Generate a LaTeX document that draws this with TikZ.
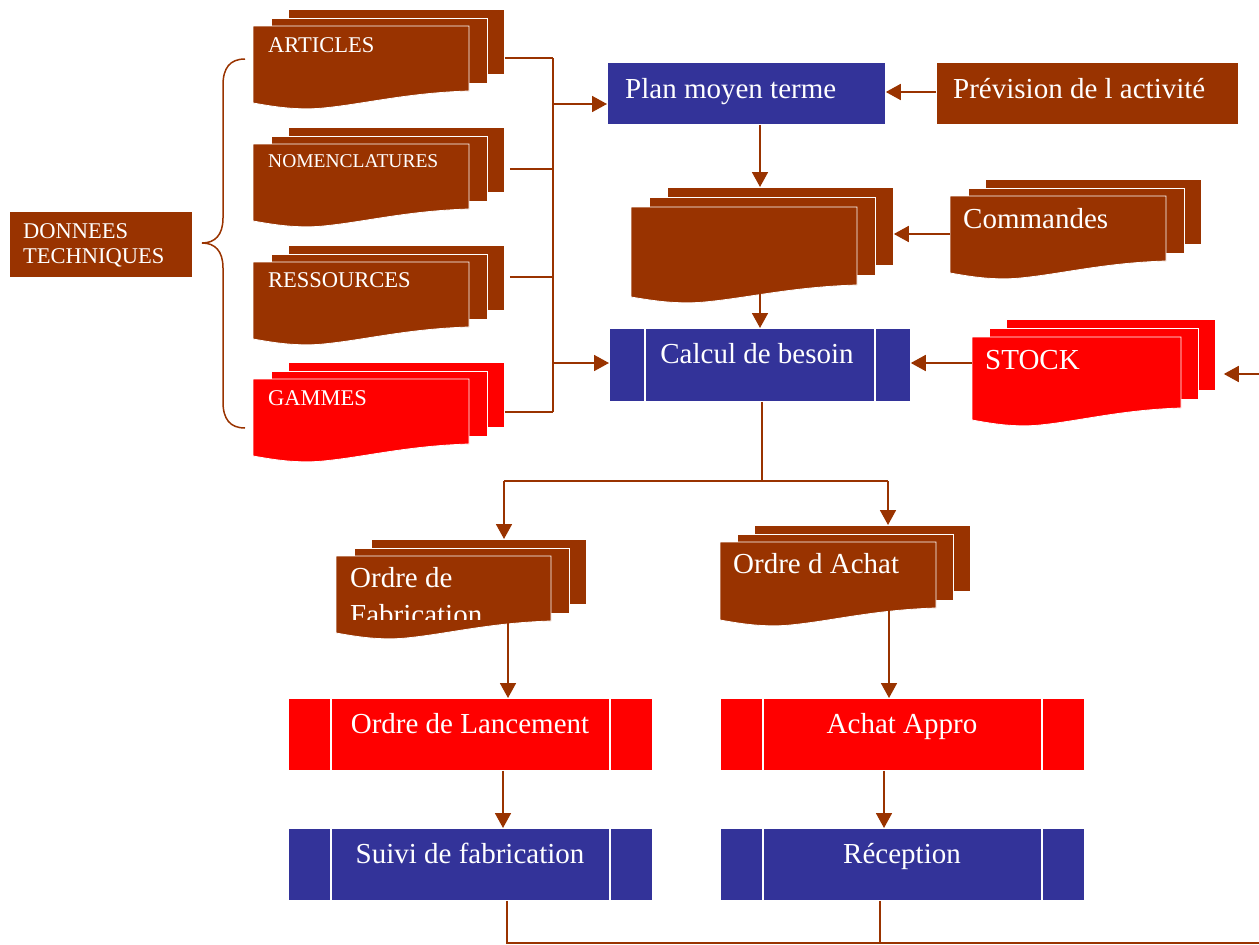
\documentclass[tikz,border=0pt]{standalone}
\usepackage{fontspec}
\setmainfont{Liberation Serif}
\usetikzlibrary{arrows.meta,calc}
\definecolor{brn}{HTML}{993300}
\definecolor{blu}{HTML}{333399}
\definecolor{rd}{HTML}{FF0000}
\tikzset{
  conn/.style={draw=brn, line width=1.8pt},
  arr/.style={conn, -{Triangle[width=16pt,length=15pt]}},
  big/.style={text=white, font=\fontsize{29}{33}\selectfont, inner sep=0pt},
  small/.style={text=white, font=\fontsize{22.5}{25}\selectfont, inner sep=0pt},
  box/.style={rectangle, inner sep=0pt, draw=white, line width=0.8pt},
}
% multi-document: name, x0, y0, w, h, colour, dx, dy (back offset)
\newcommand{\mdoc}[8]{%
  \node[box, fill=#6, anchor=north west, minimum width=#4pt, minimum height=#5pt] (#1b) at ({#2+#7},{#3-#8}) {};
  \node[box, fill=#6, anchor=north west, minimum width=#4pt, minimum height=#5pt] (#1m) at ({#2+0.5*#7},{#3-0.5*#8}) {};
  \filldraw[fill=#6, draw=white, line width=0.8pt] (#2,#3) -- ({#2+#4},#3) -- ({#2+#4},{#3+#5})
    .. controls ({#2+0.7*#4},{#3+#5+2}) and ({#2+0.5*#4},{#3+#5+14}) .. ({#2+0.3*#4},{#3+#5+17.5})
    .. controls ({#2+0.18*#4},{#3+#5+19}) and ({#2+0.08*#4},{#3+#5+15}) .. (#2,{#3+#5+12}) -- cycle;
  \node[anchor=north west, minimum width=#4pt, minimum height=#5pt, inner sep=0pt] (#1f) at (#2,#3) {};
}
% predefined process: name, x, y, w, h, colour, inset
\newcommand{\proc}[7]{%
  \node[box, fill=#6, anchor=north west, minimum width=#4pt, minimum height=#5pt] (#1) at (#2,#3) {};
  \draw[white, line width=1.5pt] ([xshift=#7pt]#1.north west) -- ([xshift=#7pt]#1.south west);
  \draw[white, line width=1.5pt] ([xshift=-#7pt]#1.north east) -- ([xshift=-#7pt]#1.south east);
}
\begin{document}
\begin{tikzpicture}[x=1pt,y=-1pt]
\useasboundingbox (0,0) rectangle (1259,945);

% DONNEES TECHNIQUES
\node[box, fill=brn, anchor=north west, minimum width=183pt, minimum height=66pt] (don) at (9,211) {};
\node[small, anchor=base west] (don1) at (23,238) {DONNEES};
\node[small, anchor=base west] (don2) at (23,263) {TECHNIQUES};

% brace
\coordinate (brT) at (245,59);
\coordinate (brM) at (202,243);
\coordinate (brB) at (245,428);
\draw[brn, line width=1.5pt] (brT) .. controls (230,59) and (223,68) .. (223,85) -- (223,218)
  .. controls (223,235) and (215,243) .. (brM) .. controls (215,243) and (223,251) .. (223,268)
  -- (223,402) .. controls (223,419) and (230,428) .. (brB);

% documents
\mdoc{art}{253}{26}{216}{65}{brn}{35}{17}
\mdoc{nom}{253}{144}{216}{65}{brn}{35}{17}
\mdoc{res}{253}{262}{216}{65}{brn}{35}{17}
\mdoc{gam}{253}{379}{216}{65}{rd}{35}{17}
\mdoc{mid}{631}{207}{226}{78}{brn}{36}{20}
\mdoc{com}{950}{196}{216}{65}{brn}{35}{17}
\mdoc{stk}{972}{337}{209}{71}{rd}{34}{18}
\mdoc{ofab}{336}{556}{215}{65}{brn}{35}{17}
\mdoc{oach}{720}{542}{216}{66}{brn}{34}{17}

\node[small, anchor=base west] (artt) at (268,52) {ARTICLES};
\node[text=white, inner sep=0pt, font=\fontsize{19.5}{22}\selectfont, anchor=base west] (nomt) at (268,167) {NOMENCLATURES};
\node[small, anchor=base west] (rest) at (268,287) {RESSOURCES};
\node[small, anchor=base west] (gamt) at (268,405) {GAMMES};
\node[big, anchor=base west] (comt) at (963,228) {Commandes};
\node[big, anchor=base west] (stkt) at (985,369) {STOCK};
\node[big, anchor=base west] (oacht) at (733,573) {Ordre d Achat};
\begin{scope}
  \clip (ofabf.north west) rectangle ([yshift=2pt]ofabf.south east);
  \node[big, anchor=base west] (ofabt1) at (350,587) {Ordre de};
  \node[big, anchor=base west] (ofabt2) at (350,624) {Fabrication};
\end{scope}

% rectangles
\node[box, fill=blu, anchor=north west, minimum width=278pt, minimum height=62pt] (plan) at (607,62) {};
\node[big, anchor=base west] (plant) at (625,98) {Plan moyen terme};
\node[box, fill=brn, anchor=north west, minimum width=302pt, minimum height=62pt] (prev) at (936,62) {};
\node[big, anchor=base west] (prevt) at (953,98) {Prévision de l activité};

% processes
\proc{calc}{609}{328}{301}{73}{blu}{36}
\proc{olan}{288}{698}{364}{72}{rd}{43}
\proc{aapp}{720}{698}{364}{72}{rd}{43}
\proc{suiv}{288}{828}{364}{72}{blu}{43}
\proc{recp}{720}{828}{364}{72}{blu}{43}
\node[big, anchor=base] (calct) at (757,363) {Calcul de besoin};
\node[big, anchor=base] (olant) at (470,733) {Ordre de Lancement};
\node[big, anchor=base] (aappt) at (902,733) {Achat Appro};
\node[big, anchor=base] (suivt) at (470,863) {Suivi de fabrication};
\node[big, anchor=base] (recpt) at (902,863) {Réception};

% left bus
\coordinate (bus1) at (553,58);
\coordinate (bus2) at (553,169);
\coordinate (bus3) at (553,277);
\coordinate (bus4) at (553,412);
\coordinate (busP) at (553,104);
\coordinate (busC) at (553,363);
\draw[conn] (artb.east |- bus1) -- (bus1);
\draw[conn, shorten <=5pt] (nomb.east |- bus2) -- (bus2);
\draw[conn, shorten <=5pt] (resb.east |- bus3) -- (bus3);
\draw[conn] (gamb.east |- bus4) -- (bus4);
\draw[conn] (bus1) -- (bus4);
\draw[arr] (busP) -- (busP -| plan.west);
\draw[arr] (busC) -- (busC -| calc.west);

% top right
\coordinate (pv) at (900,92);
\draw[arr] (prev.west |- pv) -- (plan.east |- pv);
\coordinate (pm) at (760,150);
\draw[arr] (plan.south -| pm) -- (midb.north -| pm);
\coordinate (cm) at (920,234);
\draw[arr] (comf.west |- cm) -- (midb.east |- cm);
\draw[arr] (midf.south -| pm) -- (calc.north -| pm);
\coordinate (sc) at (940,363);
\draw[arr] (stkf.west |- sc) -- (calc.east |- sc);
\coordinate (edgeS) at (1259,374);
\draw[arr, shorten >=8pt] (edgeS) -- (edgeS -| stkb.east);

% branch
\coordinate (brL) at (504,481);
\coordinate (brR) at (888,481);
\coordinate (brC) at (762,481);
\draw[conn] (calc.south -| brC) -- (brC);
\draw[conn] (brL) -- (brR);
\draw[arr] (brL) -- (brL |- ofabb.north);
\draw[arr] (brR) -- (brR |- oachb.north);

% lower chain
\coordinate (ol) at (508,660);
\draw[arr] (ofabf.south -| ol) -- (olan.north -| ol);
\coordinate (oa) at (889,660);
\draw[arr] (oachf.south -| oa) -- (aapp.north -| oa);
\coordinate (ls) at (503,800);
\draw[arr] (olan.south -| ls) -- (suiv.north -| ls);
\coordinate (ar) at (884,800);
\draw[arr] (aapp.south -| ar) -- (recp.north -| ar);

% bottom return line
\coordinate (sb) at (507,943);
\coordinate (rb) at (880,943);
\coordinate (edgeB) at (1259,943);
\draw[conn] (suiv.south -| sb) -- (sb) -- (edgeB);
\draw[conn] (recp.south -| rb) -- (rb);
\end{tikzpicture}
\end{document}
